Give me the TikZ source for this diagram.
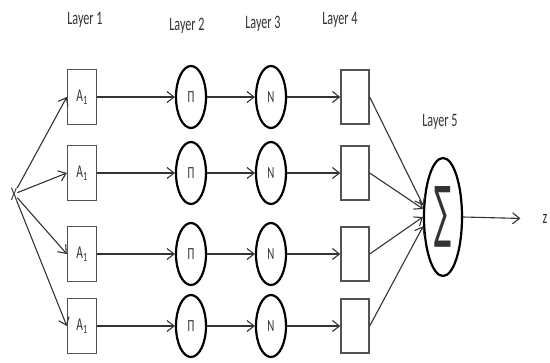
\documentclass[tikz,border=0pt]{standalone}
\usepackage{fontspec}
\usepackage{graphicx}
\setmainfont{Carlito}
\newfontfamily\sumfont{DejaVu Sans}
\usetikzlibrary{arrows.meta,shapes.geometric}
\definecolor{ink}{HTML}{333333}
% condensed lettering
\newcommand\narrowtxt[1]{\scalebox{0.64}[1]{#1}}
\begin{document}
\begin{tikzpicture}[x=1pt,y=-1pt,
  conn/.style={draw=ink, line width=1.1pt,
    -{Straight Barb[length=7pt,width=11pt,line width=1.1pt]}},
  rectbox/.style={draw=ink!85, line width=1.4pt, minimum width=29pt,
    minimum height=55pt, inner sep=0pt, text=ink,
    font=\fontsize{18}{20}\selectfont},
  oval/.style={ellipse, draw=black, line width=2.2pt, minimum width=30pt,
    minimum height=62pt, inner sep=0pt, text=ink,
    font=\fontsize{17}{19}\selectfont},
  lbl/.style={text=ink, font=\fontsize{19}{21}\selectfont, inner sep=0pt}
]
\useasboundingbox (0,0) rectangle (550,363);

% layer titles
\node[lbl] (t1) at (85,20)  {\narrowtxt{Layer 1}};
\node[lbl] (t2) at (187,26) {\narrowtxt{Layer 2}};
\node[lbl] (t3) at (263,24) {\narrowtxt{Layer 3}};
\node[lbl] (t4) at (340,20) {\narrowtxt{Layer 4}};
\node[lbl] (t5) at (440,122) {\narrowtxt{Layer 5}};

% input and output
\node[lbl] (x) at (14,194) {\narrowtxt{X}};
\node[lbl] (z) at (545,219) {\narrowtxt{z}};

% summation node
\node[oval, minimum width=38pt, minimum height=118pt] (s) at (443,217)
  {\resizebox{17pt}{48pt}{\sumfont ∑}};

% four parallel rows
\foreach \i/\y/\ang in {1/97/150, 2/173/158, 3/254/180, 4/326/205}{
  \node[rectbox] (a\i) at (82,\y) {\narrowtxt{A\textsubscript{1}}};
  \node[oval] (p\i) at (191,\y) {\narrowtxt{Π}};
  \node[oval] (n\i) at (271,\y) {\narrowtxt{N}};
  \node[rectbox, minimum width=28pt, minimum height=54pt] (b\i) at (355,\y) {};
  \draw[conn] (x) -- (a\i.west);
  \draw[conn] (a\i) -- (p\i);
  \draw[conn] (p\i) -- (n\i);
  \draw[conn] (n\i) -- (b\i);
  \draw[conn] (b\i.east) -- (s.\ang);
}

\draw[conn, shorten >=22pt] (s.east) -- (z.west);
\end{tikzpicture}
\end{document}
